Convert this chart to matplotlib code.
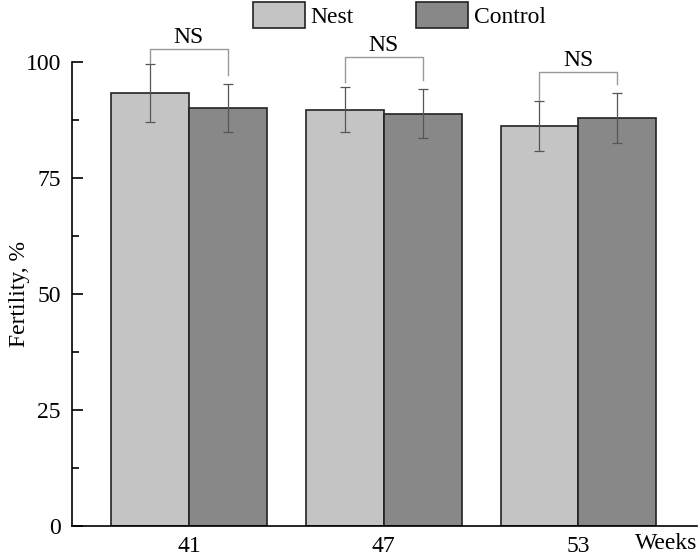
import matplotlib.pyplot as plt
import numpy as np

weeks = ["41", "47", "53"]
nest = [93.3, 89.7, 86.2]
nest_err = [6.2, 4.8, 5.4]
control = [90.1, 88.8, 87.9]
control_err = [5.2, 5.3, 5.3]
# bracket height and leg ends (data units)
bracket_top = [102.8, 101.1, 97.8]
bracket_left = [99.8, 95.7, 91.8]
bracket_right = [97.2, 96.1, 95.3]


def plotting():
    plt.rcParams['font.family'] = ['Liberation Serif', 'DejaVu Serif']
    fig = plt.figure(figsize=(7, 5.58), dpi=100)
    ax = fig.add_axes([0.103, 0.0573, 0.893, 0.832])
    x = np.arange(len(weeks))
    w = 0.4
    ax.bar(x - w/2, nest, w, color="#c4c4c4", edgecolor="#222222", lw=1.2,
           label="Nest")
    ax.bar(x + w/2, control, w, color="#888888", edgecolor="#222222", lw=1.2,
           label="Control")
    ax.errorbar(x - w/2, nest, yerr=nest_err, fmt="none", ecolor="#555555",
                elinewidth=0.9, capsize=3.5, capthick=0.9)
    ax.errorbar(x + w/2, control, yerr=control_err, fmt="none", ecolor="#555555",
                elinewidth=0.9, capsize=3.5, capthick=0.9)

    for i in range(len(weeks)):
        xl, xr = x[i] - w/2, x[i] + w/2
        ax.plot([xl, xl, xr, xr],
                [bracket_left[i], bracket_top[i], bracket_top[i], bracket_right[i]],
                color="#999999", lw=1, clip_on=False)
        ax.text(x[i], bracket_top[i] + 0.2, "NS", ha="center", va="bottom",
                fontsize=17, clip_on=False)

    ax.set_xlim(-0.6, 2.61)
    ax.set_ylim(0, 100)
    ax.set_yticks([0, 25, 50, 75, 100])
    ax.set_yticks(np.arange(12.5, 100, 25), minor=True)
    ax.set_xticks(x)
    ax.set_xticklabels(weeks)
    ax.tick_params(axis="y", direction="in", length=8, width=1.2, labelsize=17, pad=8)
    ax.tick_params(axis="y", which="minor", direction="in", length=5, width=1.2)
    ax.tick_params(axis="x", length=0, labelsize=17, pad=7)
    ax.spines["top"].set_visible(False)
    ax.spines["right"].set_visible(False)
    ax.spines["left"].set_linewidth(1.2)
    ax.spines["bottom"].set_linewidth(1.2)
    ax.set_ylabel("Fertility, %", fontsize=17)
    ax.yaxis.set_label_coords(-0.068, 0.5)
    ax.text(1.0, -0.016, "Weeks", transform=ax.transAxes, ha="right", va="top",
            fontsize=17)
    ax.legend(loc="upper left", bbox_to_anchor=(0.361, 0.996),
              bbox_transform=fig.transFigure, ncol=2, frameon=False,
              fontsize=17, handlelength=2.2, handleheight=1.3, borderpad=0,
              columnspacing=2.65, handletextpad=0.25, borderaxespad=0)
    fig.savefig("out.png", dpi=100)


if __name__ == "__main__":
    plotting()
